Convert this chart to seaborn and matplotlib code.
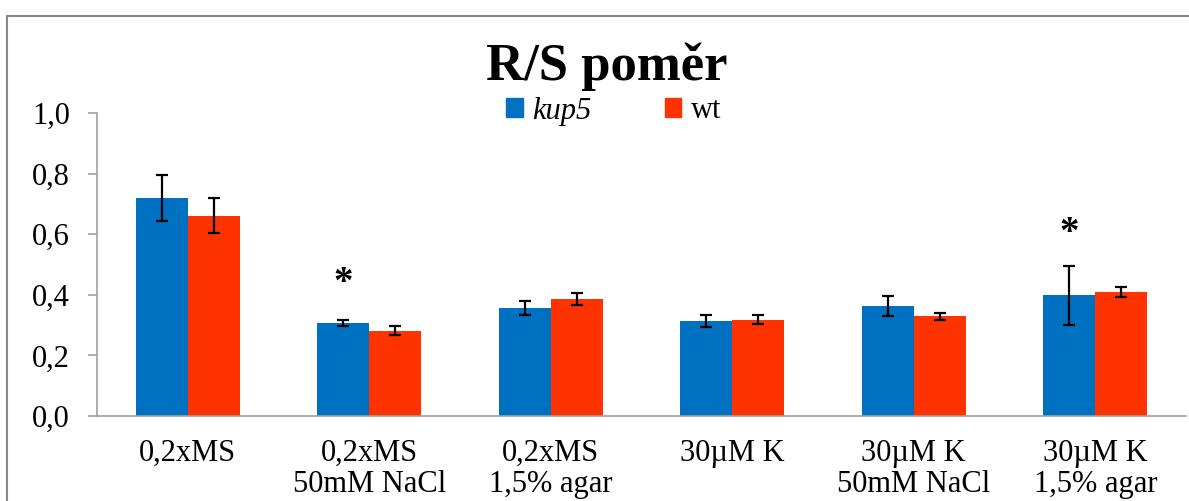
import numpy as np
import pandas as pd
import seaborn as sns
import matplotlib
matplotlib.use("Agg")
import matplotlib.pyplot as plt
from matplotlib.patches import Rectangle, Patch

# hodnoty
categories = ["0,2xMS", "0,2xMS\n50mM NaCl", "0,2xMS\n1,5% agar",
              "30µM K", "30µM K\n50mM NaCl", "30µM K\n1,5% agar"]
kup5 = [0.719, 0.306, 0.356, 0.313, 0.363, 0.398]
kup5_err = [0.075, 0.010, 0.024, 0.020, 0.034, 0.097]
wt = [0.661, 0.281, 0.385, 0.318, 0.329, 0.410]
wt_err = [0.058, 0.015, 0.020, 0.015, 0.012, 0.017]
# hvězdičky (významnost) nad kup5
star_idx = [1, 5]
star_y = [0.405, 0.570]

df = pd.DataFrame({
    "podminka": categories * 2,
    "linie": ["kup5"] * 6 + ["wt"] * 6,
    "hodnota": kup5 + wt,
})

sns.set_style("white")
plt.rcParams["font.family"] = ["Liberation Serif", "DejaVu Serif"]
plt.rcParams["text.color"] = "black"
plt.rcParams["xtick.labelcolor"] = "black"
plt.rcParams["ytick.labelcolor"] = "black"

colors = {"kup5": "#0070C0", "wt": "#FF3300"}

fig = plt.figure(figsize=(11.89, 5.01), dpi=100)
ax = fig.add_axes([97 / 1189, 1 - 416 / 501, (1186 - 97) / 1189, (416 - 113) / 501])

sns.barplot(data=df, x="podminka", y="hodnota", hue="linie", palette=colors,
            width=0.575, errorbar=None, ax=ax, legend=False, saturation=1,
            linewidth=0)

# chybové úsečky podle pozic sloupců
errs = kup5_err + wt_err
vals = kup5 + wt
bars = sorted(ax.patches, key=lambda p: (p.get_facecolor() != ax.patches[0].get_facecolor(), p.get_x()))
xs = [p.get_x() + p.get_width() / 2 for p in bars[:12]]
ax.errorbar(xs, vals, yerr=errs, fmt="none", ecolor="black",
            elinewidth=1.6, capsize=4.5, capthick=1.6)

for i, y in zip(star_idx, star_y):
    ax.text(xs[i], y, "*", ha="center", va="baseline", fontsize=28, fontweight="bold")

ax.set_ylim(0, 1.0)
ax.set_xlim(-0.5, 5.5)
ax.set_yticks(np.arange(0, 1.01, 0.2))
ax.set_yticklabels([f"{v:.1f}".replace(".", ",") for v in np.arange(0, 1.01, 0.2)])
ax.set_xlabel("")
ax.set_ylabel("")
for t in ax.get_xticklabels():
    t.set_linespacing(1.08)
ax.set_xticks(np.arange(-0.5, 6, 1), minor=True)
ax.tick_params(axis="x", which="major", length=0, pad=16.5, labelsize=22)
ax.tick_params(axis="x", which="minor", length=6, width=1.2, color="#A0A0A0", direction="out")
ax.tick_params(axis="y", length=6.5, width=1.2, color="#A0A0A0", pad=13, labelsize=22, left=True)

for s in ["top", "right"]:
    ax.spines[s].set_visible(False)
for s in ["left", "bottom"]:
    ax.spines[s].set_color("#A0A0A0")
    ax.spines[s].set_linewidth(1.2)

fig.text(607 / 1189, 1 - 80 / 501, "R/S poměr", ha="center", va="baseline",
         fontsize=38, fontweight="bold")

handles = [Patch(color=colors["kup5"]), Patch(color=colors["wt"])]
leg = fig.legend(handles, ["kup5", "wt"], loc="center left",
                 bbox_to_anchor=(506 / 1189, 1 - 111 / 501), ncol=2, frameon=False,
                 fontsize=22, handlelength=0.55, handleheight=0.55,
                 handletextpad=0.3, columnspacing=2.4, borderpad=0, borderaxespad=0)
leg.get_texts()[0].set_fontstyle("italic")

fig.patches.append(Rectangle((7 / 1189, -0.1), 1.2, 1 - 16 / 501 + 0.1,
                             transform=fig.transFigure, fill=False,
                             edgecolor="#888888", linewidth=1.5))

fig.savefig("out.png", dpi=100)
